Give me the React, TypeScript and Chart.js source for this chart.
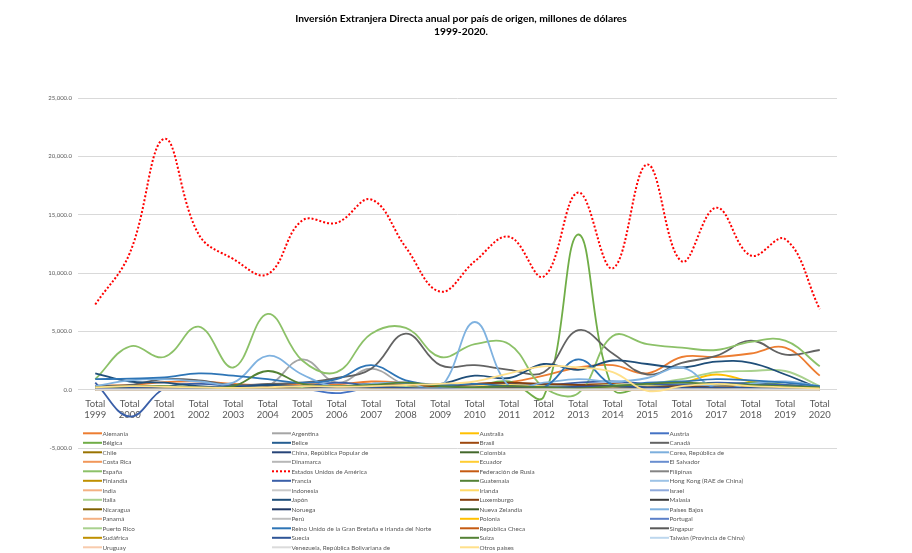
import React, { useEffect, useRef } from "react";
import { Chart, registerables } from "chart.js";

Chart.register(...registerables);

// ---------- DATA ----------
const years = ["1999", "2000", "2001", "2002", "2003", "2004", "2005", "2006", "2007", "2008", "2009", "2010", "2011", "2012", "2013", "2014", "2015", "2016", "2017", "2018", "2019", "2020"];
const categoryLabels = years.map((y) => ["Total", y]);
const titleLines = ["Inversión Extranjera Directa anual por país de origen, millones de dólares", "1999-2020."];
const yMin = -5000;
const yMax = 25000;
const yStep = 5000;

const alemania = [350, 400, 650, 700, 500, 400, 500, 450, 700, 600, 400, 500, 650, 1200, 1900, 2100, 1400, 2800, 2800, 3100, 3600, 1200];
const argentina = [50, 100, 80, 150, 100, 300, 2600, 600, 1800, 400, 150, 300, 100, 200, 300, 150, 100, 200, 150, 100, 100, 50];
const australia = [20, 30, 50, 40, 60, 50, 80, 100, 120, 100, 80, 100, 150, 200, 250, 300, 400, 600, 1300, 700, 400, 200];
const austria = [30, 50, 80, 100, 60, 80, 100, -300, 200, 120, 60, 80, 100, 150, 200, 250, 150, 200, 300, 250, 200, 150];
const belgica = [100, 200, 300, 200, 150, 200, 300, 300, 400, 200, 150, 300, 700, -600, 13300, 100, 300, 400, 300, 600, 400, 100];
const belice = [0, 0, 5, 0, 0, 0, 5, 0, 0, 0, 0, 5, 0, 0, 0, 0, 0, 0, 0, 0, 0, 0];
const brasil = [50, 80, 100, 150, 100, 200, 100, 150, 250, 300, 150, 200, 300, 250, 400, 500, 300, 200, 300, 250, 150, 100];
const canada = [300, 400, 900, 800, 400, 500, 600, 1000, 1800, 4800, 2100, 2100, 1700, 1500, 5100, 3100, 1300, 2300, 2900, 4200, 3000, 3400];
const chile = [10, 20, 30, 20, 40, 30, 50, 40, 60, 50, 40, 60, 80, 100, 80, 60, 50, 70, 60, 50, 40, 30];
const china = [0, 5, 10, 5, 10, 20, 30, 50, 40, 30, 20, 30, 50, 100, 80, 120, 150, 100, 200, 150, 100, 80];
const colombia = [0, 5, 10, 10, 20, 30, 40, 60, 80, 100, 80, 100, 120, 150, 200, 180, 150, 100, 120, 100, 80, 60];
const corea = [20, 50, 80, 60, 100, 150, 200, 300, 200, 300, 250, 200, 300, 400, 350, 300, 400, 500, 300, 250, 200, 100];
const costaRica = [5, 10, 10, 20, 10, 20, 30, 20, 30, 40, 20, 30, 40, 50, 60, 50, 40, 30, 40, 30, 20, 10];
const dinamarca = [50, 80, 100, 80, 60, 100, 150, 200, 300, 200, 100, 150, 200, 150, 100, 120, 150, 100, 120, 100, 80, 60];
const ecuador = [0, 0, 5, 0, 5, 0, 5, 5, 0, 5, 0, 5, 0, 5, 5, 0, 5, 0, 5, 0, 0, 0];
const elSalvador = [0, 5, 0, 5, 0, 5, 10, 5, 10, 5, 0, 5, 10, 5, 10, 5, 0, 5, 5, 0, 0, 0];
const espana = [900, 3700, 2800, 5400, 1900, 6500, 2500, 1500, 4800, 5300, 2800, 3900, 3900, 200, -300, 4600, 3900, 3600, 3400, 4100, 4200, 2000];
const estadosUnidos = [7300, 11700, 21500, 13300, 11200, 9900, 14500, 14300, 16300, 12200, 8400, 11000, 13100, 9700, 16900, 10400, 19300, 11000, 15600, 11500, 12900, 6900];
const federacionRusia = [0, 0, 0, 0, 0, 0, 0, 5, 10, 5, 0, 5, 10, 20, 10, 5, 10, 20, 10, 5, 10, 5];
const filipinas = [0, 0, 0, 5, 0, 0, 5, 0, 0, 5, 0, 0, 5, 0, 0, 5, 0, 0, 5, 0, 0, 0];
const finlandia = [10, 20, 50, 30, 20, 40, 60, 50, 80, 100, 60, 50, 80, 100, 60, 50, 40, 60, 50, 40, 30, 20];
const francia = [600, -2300, 100, 500, 300, 400, 300, 600, 400, 500, 300, 400, 500, 400, 600, 700, 500, 400, 600, 500, 400, 200];
const guatemala = [0, 5, 10, 5, 10, 20, 10, 20, 30, 20, 10, 20, 30, 40, 30, 20, 30, 40, 30, 20, 10, 5];
const hongKong = [0, 0, 10, 20, 10, 20, 30, 20, 50, 40, 30, 50, 60, 80, 100, 80, 60, 100, 80, 60, 50, 40];
const india = [0, 5, 10, 20, 10, 30, 50, 40, 60, 80, 100, 80, 60, 100, 120, 80, 60, 100, 80, 60, 50, 40];
const indonesia = [0, 0, 5, 0, 5, 0, 5, 10, 5, 0, 5, 10, 5, 0, 5, 10, 5, 0, 5, 10, 5, 0];
const irlanda = [10, 20, 50, 80, 60, 50, 100, 150, 100, 200, 150, 300, 400, 300, 200, 150, 300, 200, 250, 200, 150, 100];
const israel = [10, 20, 30, 20, 40, 30, 50, 60, 80, 60, 40, 60, 80, 100, 80, 60, 80, 100, 80, 60, 50, 40];
const italia = [50, 80, 100, 80, 60, 100, 150, 200, 150, 300, 200, 150, 200, 250, 300, 400, 500, 900, 1500, 1600, 1600, 300];
const japon = [1400, 700, 600, 300, 200, 400, 300, 200, 500, 400, 500, 1200, 1000, 2200, 1700, 2500, 2200, 1900, 2400, 2300, 1300, 100];
const luxemburgo = [50, 100, 200, 150, 100, 200, 300, 200, 300, 400, 300, 500, 600, 500, 400, 300, 200, 300, 200, 250, 200, 100];
const malasia = [0, 0, 5, 0, 0, 5, 10, 5, 0, 5, 10, 5, 0, 5, 10, 5, 0, 5, 10, 5, 0, 0];
const nicaragua = [0, 0, 0, 5, 0, 0, 5, 0, 0, 5, 0, 0, 5, 0, 0, 5, 0, 0, 5, 0, 0, 0];
const noruega = [0, 10, 20, 10, 30, 20, 40, 60, 50, 80, 60, 40, 60, 80, 60, 40, 50, 60, 50, 40, 30, 20];
const nuevaZelandia = [0, 0, 5, 0, 5, 10, 5, 0, 5, 10, 5, 0, 5, 10, 5, 0, 5, 10, 5, 0, 5, 0];
const paisesBajos = [300, 800, 900, 700, 600, 2900, 1300, 200, 500, 600, 200, 5800, 300, 600, 900, 700, 1000, 1900, 100, 500, 700, 300];
const panama = [5, 10, 20, 10, 20, 30, 20, 40, 30, 20, 40, 30, 50, 40, 30, 50, 40, 30, 40, 30, 20, 10];
const peru = [0, 5, 10, 5, 10, 5, 10, 20, 10, 5, 10, 20, 10, 5, 10, 20, 10, 5, 10, 5, 5, 0];
const polonia = [0, 0, 5, 0, 5, 0, 5, 0, 5, 0, 5, 0, 5, 0, 5, 0, 5, 0, 5, 0, 5, 0];
const portugal = [10, 20, 40, 30, 50, 40, 60, 80, 60, 50, 40, 60, 80, 100, 80, 60, 80, 100, 80, 60, 50, 40];
const puertoRico = [5, 10, 5, 10, 20, 10, 5, 10, 20, 10, 5, 10, 20, 10, 5, 10, 20, 10, 5, 10, 5, 5];
const reinoUnido = [900, 950, 1050, 1400, 1200, 900, 600, 900, 2100, 800, 400, 500, 300, 200, 2600, 400, 600, 700, 900, 800, 600, 300];
const republicaCheca = [0, 0, 0, 5, 0, 0, 5, 0, 0, 5, 10, 5, 0, 5, 10, 5, 0, 5, 10, 5, 0, 0];
const singapur = [10, 20, 30, 20, 40, 60, 50, 80, 100, 80, 60, 100, 150, 200, 150, 100, 150, 200, 150, 100, 80, 60];
const sudafrica = [0, 5, 10, 5, 10, 20, 10, 5, 10, 20, 10, 5, 10, 20, 10, 5, 10, 20, 10, 5, 5, 0];
const suecia = [100, 150, 200, 100, 150, 200, 300, 200, 250, 150, 100, 200, 300, 200, 250, 300, 200, 150, 200, 150, 100, 50];
const suiza = [200, 300, 300, 200, 300, 1600, 500, 300, 400, 600, 300, 200, 300, 200, 100, 300, 500, 600, 500, 400, 300, 200];
const taiwan = [0, 5, 10, 5, 10, 5, 10, 20, 10, 5, 10, 20, 30, 20, 10, 20, 30, 20, 10, 20, 10, 5];
const uruguay = [0, 0, 5, 10, 5, 0, 5, 10, 5, 0, 5, 10, 5, 0, 5, 10, 5, 0, 5, 10, 5, 0];
const venezuela = [0, 5, 10, 5, 0, 5, 10, 20, 10, 5, 0, 5, 10, 5, 0, 5, 10, 5, 0, 5, 0, 0];
const otrosPaises = [200, 300, 250, 200, 150, 200, 300, 250, 300, 400, 500, 700, 1400, 2000, 1900, 1500, -100, 300, 500, 300, 200, 100];

const seriesNames = [
  "Alemania", "Argentina", "Australia", "Austria",
  "Bélgica", "Belice", "Brasil", "Canadá",
  "Chile", "China, República Popular de", "Colombia", "Corea, República de",
  "Costa Rica", "Dinamarca", "Ecuador", "El Salvador",
  "España", "Estados Unidos de América", "Federación de Rusia", "Filipinas",
  "Finlandia", "Francia", "Guatemala", "Hong Kong (RAE de China)",
  "India", "Indonesia", "Irlanda", "Israel",
  "Italia", "Japón", "Luxemburgo", "Malasia",
  "Nicaragua", "Noruega", "Nueva Zelandia", "Países Bajos",
  "Panamá", "Perú", "Polonia", "Portugal",
  "Puerto Rico", "Reino Unido de la Gran Bretaña e Irlanda del Norte", "República Checa", "Singapur",
  "Sudáfrica", "Suecia", "Suiza", "Taiwán (Provincia de China)",
  "Uruguay", "Venezuela, República Bolivariana de", "Otros países",
];

const seriesValues = [
  alemania, argentina, australia, austria,
  belgica, belice, brasil, canada,
  chile, china, colombia, corea,
  costaRica, dinamarca, ecuador, elSalvador,
  espana, estadosUnidos, federacionRusia, filipinas,
  finlandia, francia, guatemala, hongKong,
  india, indonesia, irlanda, israel,
  italia, japon, luxemburgo, malasia,
  nicaragua, noruega, nuevaZelandia, paisesBajos,
  panama, peru, polonia, portugal,
  puertoRico, reinoUnido, republicaCheca, singapur,
  sudafrica, suecia, suiza, taiwan,
  uruguay, venezuela, otrosPaises,
];

const seriesColors = [
  "#ED7D31", "#A5A5A5", "#FFC000", "#4472C4",
  "#70AD47", "#255E91", "#9E480E", "#636363",
  "#997300", "#264478", "#43682B", "#7CAFDD",
  "#F1975A", "#B7B7B7", "#FFCD33", "#698ED0",
  "#8CC168", "#FF0000", "#C55A11", "#848484",
  "#BF9000", "#3A5FA8", "#548235", "#9DC3E6",
  "#F4B183", "#C9C9C9", "#FFD966", "#8FAADC",
  "#A9D18E", "#1F4E79", "#843C0C", "#3B3B3B",
  "#7F6000", "#203864", "#375623", "#7FB2E0",
  "#F4B183", "#C0C0C0", "#FFC000", "#5B7FC8",
  "#A9D18E", "#2E75B6", "#C55A11", "#595959",
  "#BF9000", "#2F5597", "#548235", "#BDD7EE",
  "#F8CBAD", "#DBDBDB", "#FFE08A",
];

const dottedSeries = "Estados Unidos de América";

// ---------- LAYOUT / STYLE ----------
const FONT = "Lato, 'Open Sans', 'Liberation Sans', sans-serif";
const legendColX = [83, 272, 460, 650];
const legendTop = 433.3;
const legendRowH = 9.5;
const legendLineLen = 19;

const overlayPlugin = {
  id: "overlay",
  afterDraw(chart: any) {
    const ctx = chart.ctx as CanvasRenderingContext2D;
    ctx.save();
    // title
    ctx.fillStyle = "#000000";
    ctx.font = `bold 10.3px ${FONT}`;
    ctx.textAlign = "center";
    ctx.textBaseline = "middle";
    ctx.fillText(titleLines[0], 461, 18.5);
    ctx.fillText(titleLines[1], 461, 32);
    // legend
    ctx.font = `6.3px ${FONT}`;
    ctx.textAlign = "left";
    chart.data.datasets.forEach((ds: any, i: number) => {
      const col = i % 4;
      const row = Math.floor(i / 4);
      const x = legendColX[col];
      const y = legendTop + row * legendRowH;
      ctx.strokeStyle = ds.borderColor;
      ctx.lineWidth = 2;
      ctx.setLineDash(ds.borderDash || []);
      ctx.beginPath();
      ctx.moveTo(x, y);
      ctx.lineTo(x + legendLineLen, y);
      ctx.stroke();
      ctx.setLineDash([]);
      ctx.fillStyle = "#595959";
      ctx.fillText(ds.label, x + legendLineLen + 0.5, y + 0.3);
    });
    ctx.restore();
  },
};

const fmt = (v: number) =>
  v.toLocaleString("en-US", { minimumFractionDigits: 1, maximumFractionDigits: 1 });

export default function App() {
  const canvasRef = useRef<HTMLCanvasElement | null>(null);

  useEffect(() => {
    if (!canvasRef.current) return;
    const datasets = seriesNames.map((name, i) => ({
      label: name,
      data: seriesValues[i],
      borderColor: seriesColors[i],
      backgroundColor: seriesColors[i],
      borderWidth: name === dottedSeries ? 2 : 1.8,
      borderDash: name === dottedSeries ? [2, 2] : [],
      pointRadius: 0,
      tension: 0.4,
      fill: false,
      order: -i,
    }));

    const chart = new Chart(canvasRef.current, {
      type: "line",
      data: { labels: categoryLabels, datasets },
      options: {
        responsive: false,
        animation: false,
        devicePixelRatio: 1,
        layout: { padding: { top: 98, bottom: 105, left: 0, right: 75 } },
        plugins: {
          legend: { display: false },
          title: { display: false },
          tooltip: { enabled: false },
        },
        scales: {
          x: {
            type: "category",
            offset: true,
            position: { y: 0 } as any,
            grid: { display: false, drawTicks: false },
            border: { display: false },
            ticks: {
              color: "#595959",
              font: { family: FONT, size: 9.5, lineHeight: 1.15 },
              padding: 9,
              maxRotation: 0,
              autoSkip: false,
            },
          },
          y: {
            min: yMin,
            max: yMax,
            grid: { color: "#D9D9D9", lineWidth: 1, drawTicks: false },
            border: { display: false },
            ticks: {
              stepSize: yStep,
              color: "#595959",
              font: { family: FONT, size: 6 },
              padding: 6,
              callback: (v: any) => fmt(Number(v)),
            },
            afterFit: (scale: any) => {
              scale.width = 78;
            },
          },
        },
      },
      plugins: [overlayPlugin],
    });
    return () => chart.destroy();
  }, []);

  return (
    <div style={{ position: "fixed", left: 0, top: 0, width: 912, height: 553, background: "#ffffff" }}>
      <canvas ref={canvasRef} width={912} height={553} style={{ width: 912, height: 553, display: "block" }} />
    </div>
  );
}
